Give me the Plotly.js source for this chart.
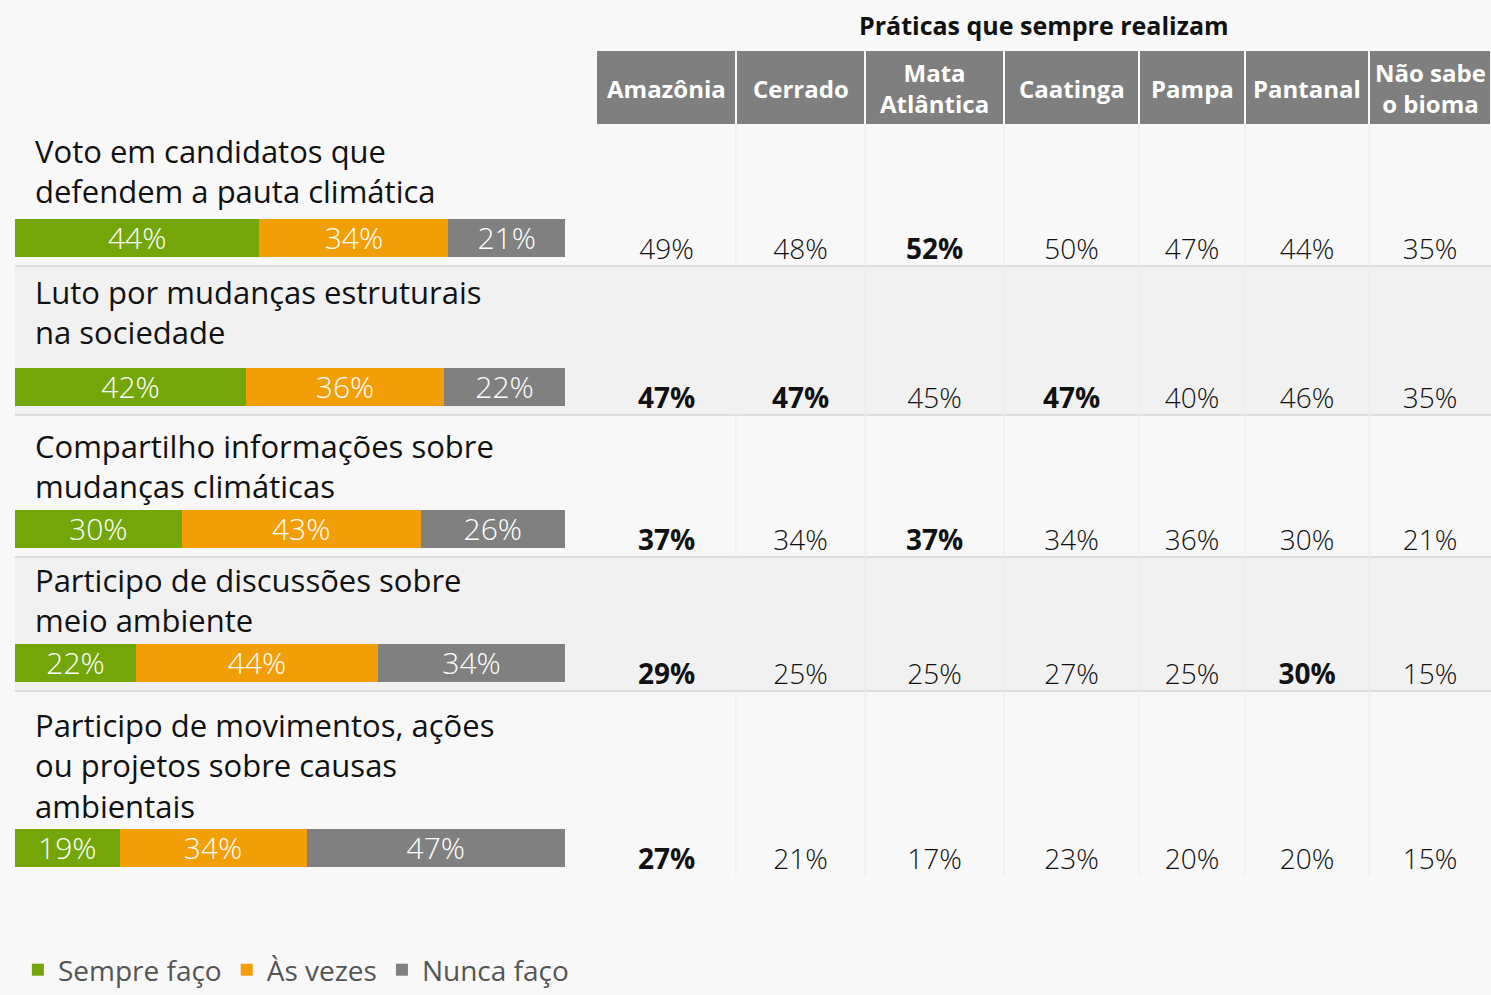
<!DOCTYPE html>
<html>
<head>
<meta charset="utf-8">
<script src="https://cdn.plot.ly/plotly-3.0.1.min.js"></script>
<style>
  html, body { margin: 0; padding: 0; background: #f8f8f8; }
  #plot { width: 1491px; height: 995px; }
</style>
</head>
<body>
<div id="plot"></div>
<script>
// --- data ---
var praticas = [
  ['Voto em candidatos que', 'defendem a pauta climática'],
  ['Luto por mudanças estruturais', 'na sociedade'],
  ['Compartilho informações sobre', 'mudanças climáticas'],
  ['Participo de discussões sobre', 'meio ambiente'],
  ['Participo de movimentos, ações', 'ou projetos sobre causas', 'ambientais']
];
var sempreFaco = [44, 42, 30, 22, 19];
var asVezes    = [34, 36, 43, 44, 34];
var nuncaFaco  = [21, 22, 26, 34, 47];

var biomas = ['Amazônia', 'Cerrado', 'Mata<br>Atlântica', 'Caatinga', 'Pampa', 'Pantanal', 'Não sabe<br>o bioma'];
var amazonia      = [49, 47, 37, 29, 27];
var cerrado       = [48, 47, 34, 25, 21];
var mataAtlantica = [52, 45, 37, 25, 17];
var caatinga      = [50, 47, 34, 27, 23];
var pampa         = [47, 40, 36, 25, 20];
var pantanal      = [44, 46, 30, 30, 20];
var naoSabe       = [35, 35, 21, 15, 15];
// highlighted (bold) columns, per row
var destaque = [[2], [0, 1, 3], [0, 2], [0, 5], [0]];

// --- layout helpers (pixel units of the 1491x995 page) ---
var W = 1491, H = 995;
var rowEdges = [124, 266, 415, 557, 691, 876];
var colWidths = [139, 129, 139, 135, 106, 124, 122];
var labelDist = [29, 37, 25, 25, 25];   // last label line centre -> bar top
var LINE = 38;
var FONT = '"Open Sans", "DejaVu Sans", sans-serif';
var verde = '#74a60a', laranja = '#f29e06', cinza = '#808080';

var colunas = [amazonia, cerrado, mataAtlantica, caatinga, pampa, pantanal, naoSabe];
var colEdges = [0];
colWidths.forEach(function (w) { colEdges.push(colEdges[colEdges.length - 1] + w); });
var colCenter = colWidths.map(function (w, i) { return colEdges[i] + w / 2; });

var rowBottom = rowEdges.slice(1);
var barY = rowBottom.map(function (b) { return b - 28.5; });
var textY = rowBottom.map(function (b) { return b - 14; });
var totais = sempreFaco.map(function (v, i) { return v + asVezes[i] + nuncaFaco[i]; });

function barTrace(name, vals, color) {
  return {
    type: 'bar', orientation: 'h', name: name,
    x: vals.map(function (v, i) { return v / totais[i] * 100; }),
    y: barY, width: 38,
    text: vals.map(function (v) { return v + '%'; }),
    textposition: 'inside', insidetextanchor: 'middle', constraintext: 'none',
    textfont: {family: FONT, size: 30, color: '#ffffff', weight: 300},
    marker: {color: color, line: {width: 0}},
    hoverinfo: 'skip', xaxis: 'x', yaxis: 'y'
  };
}

var cellX = [], cellY = [], cellText = [];
colunas.forEach(function (col, c) {
  col.forEach(function (v, r) {
    cellX.push(colCenter[c]);
    cellY.push(textY[r]);
    var t = v + '%';
    cellText.push(destaque[r].indexOf(c) >= 0 ? '<b>' + t + '</b>' : t);
  });
});

var data = [
  barTrace('Sempre faço', sempreFaco, verde),
  barTrace('Às vezes', asVezes, laranja),
  barTrace('Nunca faço', nuncaFaco, cinza),
  {
    type: 'scatter', mode: 'text', x: cellX, y: cellY, text: cellText,
    textposition: 'middle center',
    textfont: {family: FONT, size: 28, color: '#111111', weight: 300},
    xaxis: 'x2', yaxis: 'y', showlegend: false, hoverinfo: 'skip'
  }
];

var barDomain = [15 / W, 565 / W];
var shapes = [];
// grey background on alternate rows
[1, 3].forEach(function (r) {
  shapes.push({type: 'rect', xref: 'paper', yref: 'y', x0: barDomain[0], x1: 1,
    y0: rowEdges[r], y1: rowEdges[r + 1], fillcolor: '#f1f1f1', line: {width: 0}, layer: 'below'});
});
// row separators
rowEdges.slice(1, 5).forEach(function (e) {
  shapes.push({type: 'line', xref: 'paper', yref: 'y', x0: barDomain[0], x1: 1,
    y0: e, y1: e, line: {color: '#dddddd', width: 2}, layer: 'below'});
});
// column separators and header cells
colEdges.slice(1, 7).forEach(function (e) {
  shapes.push({type: 'line', xref: 'x2', yref: 'y', x0: e, x1: e,
    y0: rowEdges[0], y1: rowEdges[5], line: {color: '#ebebeb', width: 1}, layer: 'below'});
});
colWidths.forEach(function (w, i) {
  shapes.push({type: 'rect', xref: 'x2', yref: 'y', x0: colEdges[i] + (i ? 1 : 0), x1: colEdges[i + 1] - 1,
    y0: 51, y1: rowEdges[0], fillcolor: '#7f7f7f', line: {width: 0}, layer: 'below'});
});

var annotations = [];
annotations.push({xref: 'x2', yref: 'y', x: colEdges[7] / 2, y: 25, showarrow: false,
  text: '<b>Práticas que sempre realizam</b>', font: {family: FONT, size: 25, color: '#111'}});
biomas.forEach(function (b, i) {
  annotations.push({xref: 'x2', yref: 'y', x: colCenter[i], y: 88, showarrow: false,
    text: '<b>' + b + '</b>', font: {family: FONT, size: 24, color: '#ffffff'}});
});
// label block centred where the picture's lines sit
praticas.forEach(function (linhas, r) {
  var ultima = barY[r] - 19 - labelDist[r];
  var centro = ultima - (linhas.length - 1) * LINE / 2;
  annotations.push({xref: 'x', yref: 'y', x: 0, y: centro,
    xanchor: 'left', yanchor: 'middle', xshift: 18, align: 'left', showarrow: false,
    text: linhas.join('<br>'), font: {family: FONT, size: 31, color: '#111111'}});
});

var layout = {
  width: W, height: H,
  margin: {l: 0, r: 0, t: 0, b: 0, pad: 0, autoexpand: false},
  paper_bgcolor: '#f8f8f8', plot_bgcolor: 'rgba(0,0,0,0)',
  barmode: 'stack', bargap: 0,
  showlegend: true,
  legend: {orientation: 'h', traceorder: 'normal', x: 0.012, y: 0, xref: 'container', yref: 'container',
    xanchor: 'left', yanchor: 'bottom',
    bgcolor: 'rgba(0,0,0,0)', font: {family: FONT, size: 28, color: '#555555'},
    itemclick: false, itemdoubleclick: false},
  xaxis: {domain: barDomain, range: [0, 100], visible: false, fixedrange: true},
  xaxis2: {domain: [597 / W, 1], range: [0, colEdges[7]], visible: false, fixedrange: true, anchor: 'y'},
  yaxis: {domain: [0, 1], range: [H, 0], visible: false, fixedrange: true},
  shapes: shapes,
  annotations: annotations,
  hovermode: false
};

Plotly.newPlot('plot', data, layout, {displayModeBar: false, staticPlot: true});
</script>
</body>
</html>
